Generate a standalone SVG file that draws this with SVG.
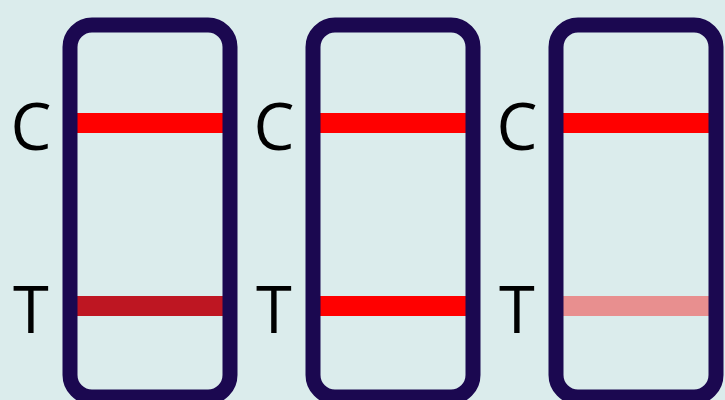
<svg xmlns="http://www.w3.org/2000/svg" width="725" height="400" viewBox="0 0 725 400">
<style>
.strip{fill:none;stroke:#1b0850;stroke-width:15}
.lbl{font-family:"Open Sans","DejaVu Sans",sans-serif;font-size:65px;fill:#000;text-anchor:middle}
</style>
<rect width="725" height="400" fill="#dbecec"/>
<g id="strip1">
<rect x="77" y="113" width="146" height="20" fill="#ff0000"/>
<rect x="77" y="296" width="146" height="20" fill="#be1622"/>
<rect class="strip" x="70" y="25" width="160" height="372" rx="22"/>
<text class="lbl" x="31" y="150">C</text>
<text class="lbl" x="31" y="333">T</text>
</g>
<g id="strip2">
<rect x="320" y="113" width="146" height="20" fill="#ff0000"/>
<rect x="320" y="296" width="146" height="20" fill="#ff0000"/>
<rect class="strip" x="313" y="25" width="160" height="372" rx="22"/>
<text class="lbl" x="274" y="150">C</text>
<text class="lbl" x="274" y="333">T</text>
</g>
<g id="strip3">
<rect x="563" y="113" width="146" height="20" fill="#ff0000"/>
<rect x="563" y="296" width="146" height="20" fill="#e88f8f"/>
<rect class="strip" x="556" y="25" width="160" height="372" rx="22"/>
<text class="lbl" x="517" y="150">C</text>
<text class="lbl" x="517" y="333">T</text>
</g>
<g id="connectors"/>
</svg>
